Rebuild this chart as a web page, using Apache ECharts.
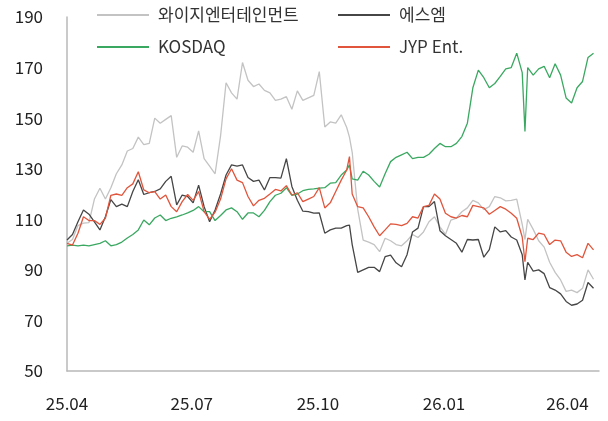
<!DOCTYPE html>
<html>
<head>
<meta charset="utf-8">
<script src="https://cdn.jsdelivr.net/npm/echarts@6/dist/echarts.min.js"></script>
<style>
  html, body { margin: 0; padding: 0; background: #fff; }
  #chart { width: 608px; height: 421px; }
</style>
</head>
<body>
<div id="chart"></div>
<script>
// days since 2025-04-01
const days = [0, 4, 8, 12, 16, 20, 24, 28, 32, 36, 40, 44, 48, 52, 56, 60, 64, 68, 72, 76,
  80, 84, 88, 92, 96, 100, 104, 108, 112, 116, 120, 124, 128, 132, 136, 140, 144, 148, 152, 156,
  160, 164, 168, 172, 176, 180, 184, 188, 192, 196, 200, 204, 206, 208, 212, 216, 220, 224, 228, 232,
  236, 240, 244, 248, 252, 256, 260, 264, 268, 272, 276, 280, 284, 288, 292, 296, 300, 304, 308, 312,
  316, 320, 324, 328, 332, 334, 336, 340, 344, 348, 352, 356, 360, 364, 368, 372, 376, 380, 384];

const tickDays = [0, 91, 183, 275, 365];
const tickLabels = ['25.04', '25.07', '25.10', '26.01', '26.04'];

const yg = [100.5, 102, 107.5, 108.5, 108.7, 118, 122.3, 118, 122.5, 128,
  131.5, 137, 138, 142.5, 139.5, 140, 150, 148, 149.5, 151,
  134.5, 139, 138.5, 136.5, 145, 134, 131, 128, 143, 164,
  160, 157.5, 172, 165, 162.5, 163.5, 161, 160, 157, 157.5,
  158.5, 153.5, 160.8, 157, 158, 159, 168.4, 146.5, 148.5, 148,
  151.3, 146.3, 142.5, 136.5,
  114, 101.8, 101, 100, 97.2, 102.5, 101.5,
  100, 99.5, 101.5, 104, 102.8, 105, 109, 111, 107, 104,
  109.7, 110.5, 113, 114.5, 117.5, 116.5, 113.8, 115, 119, 118.5,
  117.3, 117.5, 118, 108, 102,
  110, 106, 101.5, 99, 93, 89, 86, 81.5, 82, 81, 82.7, 90, 86.3];

const sm = [101.8, 104, 109, 113.7, 112, 109, 105.8, 111, 117.8, 115,
  116, 115, 121, 125.6, 119.8, 120.5, 121, 122, 125, 127,
  115.7, 119.6, 119, 116.5, 123.5, 115, 109, 113.7, 120, 127.5,
  131.5, 131, 131.5, 126.5, 125, 125.5, 121.6, 126.5, 126.5, 126.3,
  134, 123, 117.5, 113.2, 113, 112.4, 112.5, 104.5, 105.8, 106.5,
  106.5, 107.5, 107.7, 100,
  89, 90, 91, 91, 89.3, 95.2, 95.8,
  92.8, 91.2, 96, 105, 106.5, 115, 115, 117, 105.5, 103.5,
  102, 100.5, 97, 102, 101.8, 102, 95, 98, 107, 105,
  105.5, 103, 101.8, 96, 86,
  93, 89.5, 90, 88.5, 83, 82, 80.5, 77.5, 76, 76.5, 78, 85, 82.7];

const kosdaq = [99.5, 99.8, 99.5, 99.8, 99.5, 100, 100.5, 101.5, 99.5, 100,
  101, 102.6, 104, 105.8, 109.7, 107.8, 110.5, 111.7, 109.5, 110.4,
  111, 111.7, 112.5, 113.5, 115, 113, 113, 109.5, 111.5, 113.7,
  114.5, 113, 110, 112.5, 112.5, 111, 113.5, 117, 119.5, 120.3,
  122.5, 119.5, 120, 121.3, 121.8, 122, 122.3, 122.5, 124.3, 124.5,
  127.5, 129.5, 131.5, 126,
  125.5, 129, 127.5, 125, 122.8, 128, 132.8,
  134.5, 135.5, 136.5, 134, 134.5, 134.5, 135.7, 138, 140, 138.7,
  138.7, 140, 142.7, 148, 162, 169, 166, 162, 163.7, 166.5,
  169.5, 170, 175.7, 168, 144.7,
  170, 167, 169.5, 170.5, 166, 171.5, 167, 158, 156, 162, 164.5, 174, 175.7];

const jyp = [100.5, 99.8, 104.5, 111, 109.5, 109.5, 108, 110.4, 119.5, 120,
  119.5, 122.5, 124, 128.8, 121.6, 120.5, 120.9, 118, 119.6, 115,
  113, 117, 119.8, 117.5, 121, 113, 110, 112.8, 118, 126,
  130, 125.5, 124.5, 119, 115.3, 117.5, 118.3, 120, 121.8, 121.2,
  123.3, 119.6, 120.5, 117, 118, 119, 122.5, 114.5, 116.5, 121,
  125.5, 129.5, 134.8, 120,
  115, 114.5, 111, 107, 103.5, 105.8, 108.2,
  108, 107.5, 108.4, 111, 110.5, 115, 115.5, 120, 118, 112.4,
  111, 110.5, 111.5, 111, 115.5, 115, 114.5, 112, 113.5, 115,
  114, 112.4, 110.4, 103, 93.2,
  102.5, 102, 104.5, 104, 100, 101.8, 101.5, 97, 95.3, 96, 94.8, 100.5, 97.9];

const FONT = '"Noto Sans CJK KR", "Noto Sans", sans-serif';
const pair = vals => vals.map((v, i) => [days[i], v]);

const line = (name, vals, color) => ({
  name, type: 'line', data: pair(vals), color,
  showSymbol: false, symbol: 'none',
  lineStyle: { color, width: 1.3 },
  emphasis: { disabled: true }
});

const legendBase = {
  orient: 'vertical', icon: 'rect', itemWidth: 52, itemHeight: 2,
  itemGap: 12, top: 5, padding: 0,
  textStyle: { fontFamily: FONT, fontSize: 17, color: '#333', lineHeight: 20, padding: [0, 0, 0, 4] }
};

const chart = echarts.init(document.getElementById('chart'));
chart.setOption({
  animation: false,
  backgroundColor: '#fff',
  grid: { left: 67, right: 9, top: 17, bottom: 50 },
  legend: [
    Object.assign({}, legendBase, { left: 97, data: ['와이지엔터테인먼트', 'KOSDAQ'] }),
    Object.assign({}, legendBase, { left: 338, data: ['에스엠', 'JYP Ent.'] })
  ],
  xAxis: {
    type: 'value', min: 0, max: 388,
    axisLine: { show: true, lineStyle: { color: '#b8b8b8', width: 1.5 } },
    axisTick: { show: false },
    splitLine: { show: false },
    axisLabel: {
      customValues: tickDays,
      formatter: v => tickLabels[tickDays.indexOf(v)],
      fontFamily: FONT, fontSize: 17, color: '#222', margin: 24
    }
  },
  yAxis: {
    type: 'value', min: 50, max: 190, interval: 20,
    axisLine: { show: true, lineStyle: { color: '#b8b8b8', width: 1.5 } },
    axisTick: { show: false },
    splitLine: { show: false },
    axisLabel: { fontFamily: FONT, fontSize: 17, color: '#222', margin: 24 }
  },
  series: [
    line('와이지엔터테인먼트', yg, '#c3c3c3'),
    line('에스엠', sm, '#464646'),
    line('KOSDAQ', kosdaq, '#3aa861'),
    line('JYP Ent.', jyp, '#e0553c')
  ]
});
</script>
</body>
</html>
